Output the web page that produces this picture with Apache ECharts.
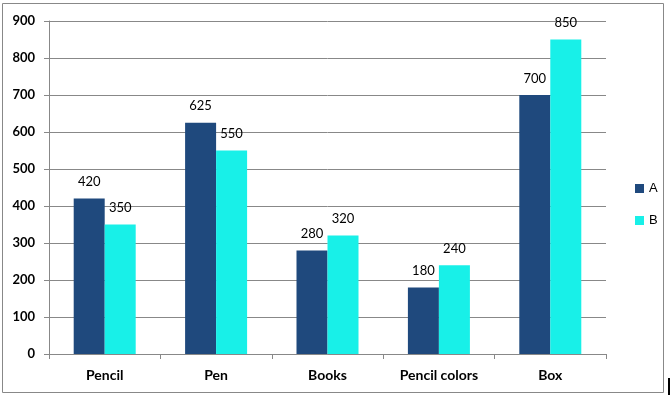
<!DOCTYPE html>
<html>
<head>
<meta charset="utf-8">
<script src="https://cdn.jsdelivr.net/npm/echarts@6/dist/echarts.min.js"></script>
<style>
    html, body { margin: 0; padding: 0; background: #fff; }
    #chart { width: 672px; height: 398px; }
</style>
</head>
<body>
<div id="chart"></div>
<script>
var categories = ['Pencil', 'Pen', 'Books', 'Pencil colors', 'Box'];
var seriesA = [420, 625, 280, 180, 700];
var seriesB = [350, 550, 320, 240, 850];

var myChart = echarts.init(document.getElementById('chart'));

myChart.setOption({
    animation: false,
    color: ['#1F497D', '#18F0E8'],
    textStyle: {fontFamily: 'Lato'},
    graphic: [{
        type: 'rect',
        shape: {x: 2.5, y: 3.5, width: 661, height: 389},
        style: {fill: 'none', stroke: '#888', lineWidth: 1}
    }, {
        type: 'rect',
        shape: {x: 668, y: 378, width: 2, height: 17},
        style: {fill: '#000'}
    }],
    legend: {
        orient: 'vertical',
        left: 630,
        top: 177,
        itemWidth: 9,
        itemHeight: 9,
        itemGap: 19,
        icon: 'rect',
        textStyle: {fontSize: 13, color: '#000', fontFamily: 'Liberation Sans'},
        data: ['A', 'B']
    },
    grid: {
        left: 49,
        right: 66,
        top: 21,
        bottom: 44
    },
    xAxis: {
        type: 'category',
        data: categories,
        axisLine: {lineStyle: {color: '#888'}},
        axisTick: {show: true, length: 5, lineStyle: {color: '#888'}},
        axisLabel: {fontSize: 14, fontWeight: 'bold', color: '#000', margin: 14}
    },
    yAxis: {
        type: 'value',
        min: 0,
        max: 900,
        interval: 100,
        axisLine: {show: true, lineStyle: {color: '#888'}},
        axisTick: {show: true, length: 5, lineStyle: {color: '#888'}},
        splitLine: {lineStyle: {color: '#888'}},
        axisLabel: {fontSize: 13, fontWeight: 'bold', color: '#000', margin: 14}
    },
    series: [{
        name: 'A',
        type: 'bar',
        data: seriesA,
        barWidth: 31,
        barGap: '0%',
        label: {show: true, position: 'top', distance: 10, fontSize: 13, color: '#000'}
    }, {
        name: 'B',
        type: 'bar',
        data: seriesB,
        barWidth: 31,
        barGap: '0%',
        label: {show: true, position: 'top', distance: 10, fontSize: 13, color: '#000'}
    }]
});
</script>
</body>
</html>
